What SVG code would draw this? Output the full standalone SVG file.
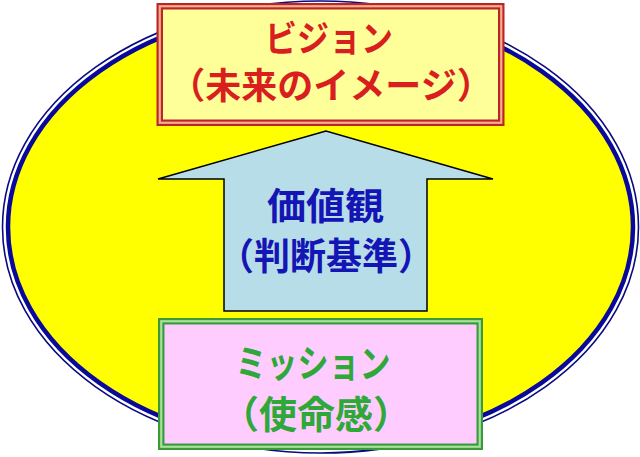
<svg xmlns="http://www.w3.org/2000/svg" width="640" height="457" viewBox="0 0 640 457">
<style>
.t{font-family:"Noto Sans CJK JP","Noto Sans CJK SC",sans-serif;font-weight:bold;text-anchor:middle}
.red{fill:#D81E1E;font-size:36px}
.blue{fill:#1515B5;font-size:37px}
.green{fill:#2FA83A;font-size:38px}
</style>
<rect width="640" height="457" fill="#FFFFFF"/>
<g id="ellipse">
<ellipse cx="320.5" cy="227" rx="318" ry="226" fill="none" stroke="#0A0A80" stroke-width="1.6"/>
<ellipse cx="320.5" cy="227" rx="312.5" ry="220.5" fill="#FFFF00" stroke="#0A0A9A" stroke-width="4.5"/>
</g>
<g id="connectors">
<polygon id="arrow" points="326,131 158,179 224,179 224,311 427,311 427,179 493,179" fill="#B7DEE8" stroke="#000000" stroke-width="1.5" stroke-linejoin="miter"/>
</g>
<g id="value">
<text class="t blue"><tspan x="325.5" y="220" textLength="117" lengthAdjust="spacingAndGlyphs">価値観</tspan><tspan x="326" y="270" textLength="216" lengthAdjust="spacingAndGlyphs">（判断基準）</tspan></text>
</g>
<g id="vision">
<rect x="159.75" y="6.25" width="341.5" height="116.5" fill="#FFFF99" stroke="#B8262A" stroke-width="6.5"/>
<rect x="159.75" y="6.25" width="341.5" height="116.5" fill="none" stroke="#F6B08C" stroke-width="2.2"/>
<text class="t red"><tspan x="329" y="52" textLength="128" lengthAdjust="spacingAndGlyphs">ビジョン</tspan><tspan x="331" y="99">（未来のイメージ）</tspan></text>
</g>
<g id="mission">
<rect x="161.25" y="321.25" width="318.5" height="125.5" fill="#FFCCFF" stroke="#3A9A3A" stroke-width="6.5"/>
<rect x="161.25" y="321.25" width="318.5" height="125.5" fill="none" stroke="#A8E0A0" stroke-width="2.2"/>
<text class="t green"><tspan x="313" y="377" textLength="155" lengthAdjust="spacingAndGlyphs">ミッション</tspan><tspan x="316" y="428">（使命感）</tspan></text>
</g>
</svg>
